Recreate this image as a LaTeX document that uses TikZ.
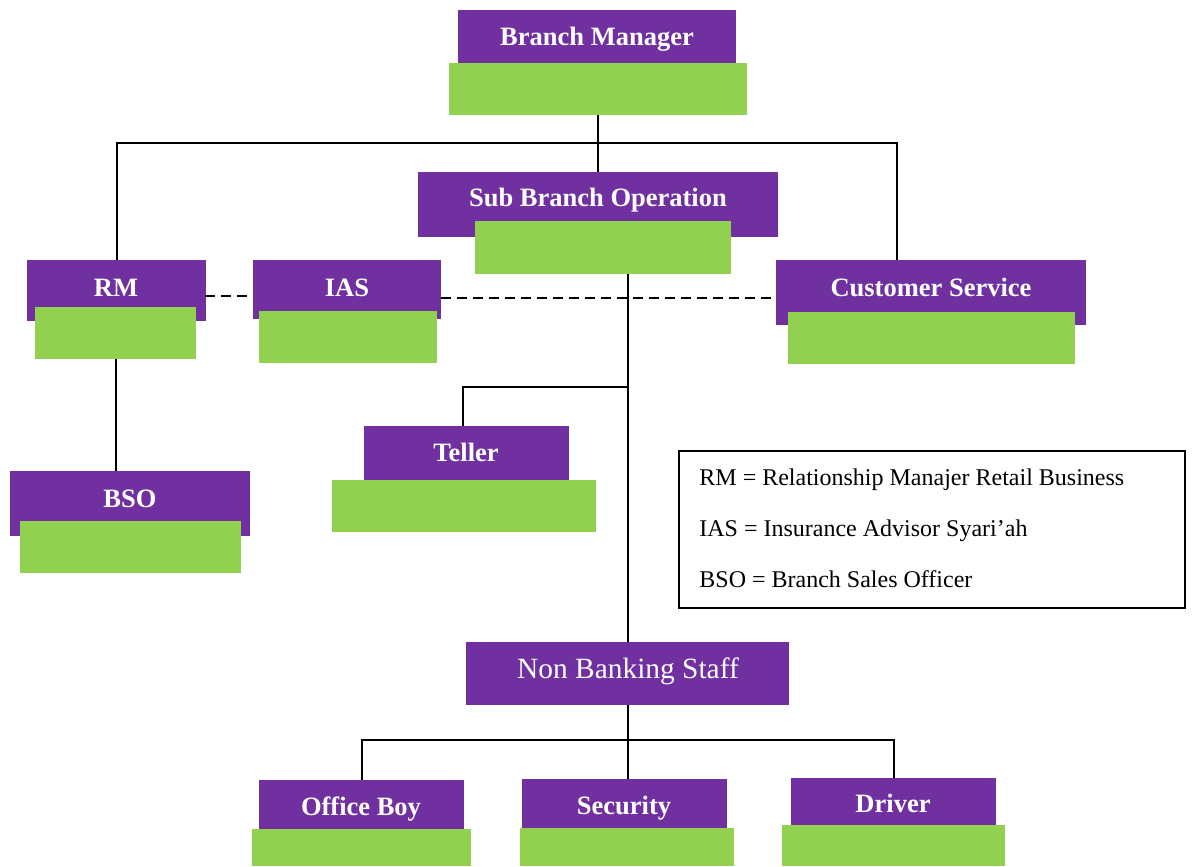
\documentclass[tikz,border=0pt]{standalone}
\usepackage{fontspec}
\setmainfont{Liberation Serif}
\usetikzlibrary{fit, calc}

\definecolor{postpurple}{HTML}{7030A0}
\definecolor{postgreen}{HTML}{92D050}

\begin{document}
\begin{tikzpicture}[
    x=0.5pt, y=-0.5pt,
    head/.style={rectangle, fill=postpurple, inner sep=0pt},
    pad/.style={rectangle, fill=postgreen, inner sep=0pt},
    headtext/.style={text=white, font=\fontsize{13.25}{15}\selectfont\bfseries, inner sep=0pt, text height=1.95ex, text depth=0pt},
    plaintext/.style={text=white, font=\fontsize{14.7}{17}\selectfont, inner sep=0pt, text height=1.95ex, text depth=0pt},
    legendbox/.style={rectangle, draw=black, line width=0.6pt, inner sep=0pt},
    legendtext/.style={font=\fontsize{12}{25.5}\selectfont, align=left, inner sep=0pt},
    link/.style={draw=black, line width=1pt},
    dashlink/.style={link, dash pattern=on 5pt off 3pt}
]
\useasboundingbox (0,0) rectangle (1192,866);

% kotak jabatan (ungu) dan isian (hijau)
\node[head, fit={(458,10) (736,63)}] (bm) {};
\node[pad, fit={(449,63) (747,115)}] (bmg) {};
\node[headtext] (bmtxt) at (597,37) {Branch Manager};

\node[head, fit={(418,172) (778,237)}] (sbo) {};
\node[pad, fit={(475,221) (731,274)}] (sbog) {};
\node[headtext] (sbotxt) at (598,198) {Sub Branch Operation};

\node[head, fit={(27,260) (206,321)}] (rm) {};
\node[pad, fit={(35,307) (196,359)}] (rmg) {};
\node[headtext] (rmtxt) at (116,288) {RM};

\node[head, fit={(253,260) (441,319)}] (ias) {};
\node[pad, fit={(259,311) (437,363)}] (iasg) {};
\node[headtext] (iastxt) at (347,288) {IAS};

\node[head, fit={(776,260) (1086,325)}] (cs) {};
\node[pad, fit={(788,312) (1075,364)}] (csg) {};
\node[headtext] (cstxt) at (931,288) {Customer Service};

\node[head, fit={(364,426) (569,481)}] (teller) {};
\node[pad, fit={(332,480) (596,532)}] (tellerg) {};
\node[headtext] (tellertxt) at (466,453) {Teller};

\node[head, fit={(10,471) (250,536)}] (bso) {};
\node[pad, fit={(20,521) (241,573)}] (bsog) {};
\node[headtext] (bsotxt) at (130,499) {BSO};

\node[head, fit={(466,642) (789,705)}] (nbs) {};
\node[plaintext] (nbstxt) at (628,670) {Non Banking Staff};

\node[head, fit={(259,780) (464,829)}] (ob) {};
\node[pad, fit={(252,829) (471,866)}] (obg) {};
\node[headtext] (obtxt) at (361,807) {Office Boy};

\node[head, fit={(522,779) (727,828)}] (sec) {};
\node[pad, fit={(520,828) (734,866)}] (secg) {};
\node[headtext] (sectxt) at (624,806) {Security};

\node[head, fit={(791,778) (996,825)}] (drv) {};
\node[pad, fit={(782,825) (1005,866)}] (drvg) {};
\node[headtext] (drvtxt) at (893,804) {Driver};

% keterangan singkatan
\node[legendbox, fit={(679,451) (1185,608)}] (legend) {};
\node[legendtext, anchor=west] (legendtxt) at (699,528)
    {RM = Relationship Manajer Retail Business\\
     IAS = Insurance Advisor Syari'ah\\
     BSO = Branch Sales Officer};

% garis komando
\coordinate (bus) at (bmg.south |- 0,143);
\draw[link] (bmg.south) -- (bus) -- (bus |- sbo.north);
\draw[link] (rm.north) |- (bus) -| ([xshift=-17pt]cs.north);

\coordinate (trunk) at (628,387);
\draw[link] (sbog.south -| trunk) -- (trunk |- nbs.north);
\draw[link] ([xshift=-2pt]teller.north) |- (trunk);

\draw[link] (rmg.south) -- (rmg.south |- bso.north);

% garis koordinasi
\draw[dashlink] ([yshift=-3pt]rm.east) -- ([yshift=-3pt]ias.west -| rm.east) -- ([yshift=-3pt]ias.west);
\draw[dashlink] ([yshift=-4pt]ias.east) -- ([yshift=-4pt]ias.east -| cs.west);

\coordinate (split) at (trunk |- 0,740);
\draw[link] (trunk |- nbs.south) -- (split) -- (split |- sec.north);
\draw[link] (ob.north) |- (split) -| (drv.north);

\end{tikzpicture}
\end{document}
